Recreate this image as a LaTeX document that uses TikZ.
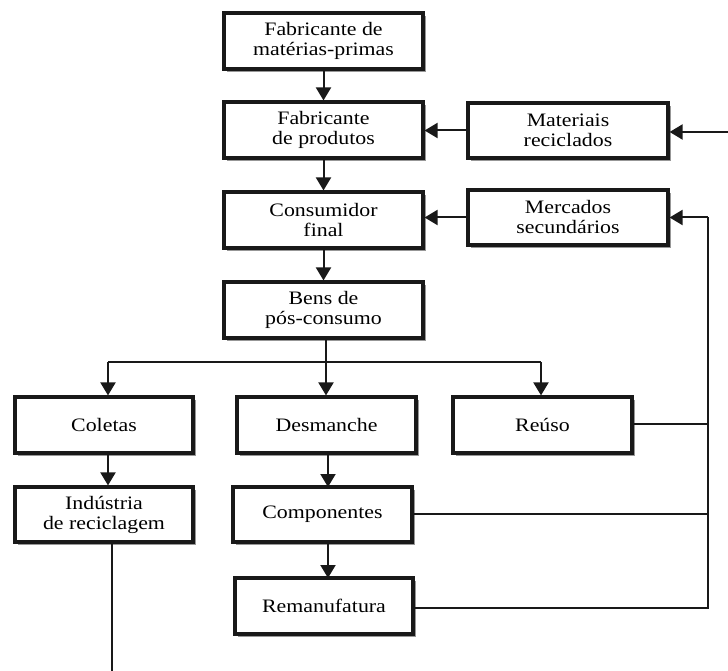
\documentclass[tikz,border=0pt]{standalone}
\usepackage{fontspec}
\setmainfont{Liberation Serif}[FakeStretch=1.15]
\usetikzlibrary{arrows.meta,shadows}
\begin{document}
\begin{tikzpicture}[x=1pt,y=-1pt,
  box/.style={draw=black!90,line width=3.2pt,fill=white,minimum height=56pt,
    align=center,inner sep=0pt,font=\fontsize{19}{20}\selectfont,
    drop shadow={shadow xshift=3pt,shadow yshift=-3pt,fill=black!45,opacity=0.9}},
  conn/.style={line width=2pt,black!90},
  arr/.style={conn,-{Triangle[length=13pt,width=15pt]}}]
\useasboundingbox (0,0) rectangle (728,671);
% main column
\node[box,minimum width=199pt] (fm) at (323.5,41) {Fabricante de\\matérias-primas};
\node[box,minimum width=199pt] (fp) at (323.5,130) {Fabricante\\de produtos};
\node[box,minimum width=199pt] (cf) at (323.5,220) {Consumidor\\final};
\node[box,minimum width=199pt] (bp) at (323.5,310) {Bens de\\pós-consumo};
% right column
\node[box,minimum width=200pt,minimum height=55pt] (mr) at (568,130.5) {Materiais\\reciclados};
\node[box,minimum width=200pt,minimum height=55pt] (ms) at (568,217.5) {Mercados\\secundários};
% lower row
\node[box,minimum width=178pt] (co) at (104,425) {Coletas};
\node[box,minimum width=179pt] (de) at (326.5,425) {Desmanche};
\node[box,minimum width=179pt] (re) at (542.5,425) {Reúso};
\node[box,minimum width=178pt,minimum height=55pt] (in) at (104,514.5) {Indústria\\de reciclagem};
\node[box,minimum width=179pt,minimum height=55pt] (cp) at (322.5,514.5) {Componentes};
\node[box,minimum width=178pt] (rm) at (324,606) {Remanufatura};
% coordinates
\coordinate (edge) at (728,132);
\coordinate (split) at (326,362);
\coordinate (sl) at (108,362);
\coordinate (sr) at (541,362);
\coordinate (vr) at (708,217.5);
\coordinate (r1) at (708,424);
\coordinate (r2) at (708,514);
\coordinate (r3) at (708,608);
\coordinate (bot) at (112,671);
% main arrows
\draw[arr] (fm) -- (fp);
\draw[arr] (fp) -- (cf);
\draw[arr] (cf) -- (bp);
\draw[arr] (mr.west) -- (fp.east |- mr.west);
\draw[arr] (edge) -- (mr.east |- edge);
\draw[arr] (ms.west) -- (cf.east |- ms.west);
% distribution
\draw[conn] (bp.south -| split) -- (split);
\draw[conn] (sl) -- (sr);
\draw[arr] (sl) -- (sl |- co.north);
\draw[arr] (split) -- (split |- de.north);
\draw[arr] (sr) -- (sr |- re.north);
\draw[arr] (co.south -| sl) -- (sl |- in.north);
\draw[arr] (de.south -| 328,0) -- (328,487);
\draw[arr] (cp.south -| 328,0) -- (328,578);
% return paths
\draw[conn] (re.east |- r1) -- (r1);
\draw[conn] (cp.east |- r2) -- (r2);
\draw[conn] (rm.east |- r3) -- (r3) -- (vr);
\draw[arr] (vr) -- (ms.east);
% recycling industry line
\draw[conn] (in.south -| bot) -- (bot);
\end{tikzpicture}
\end{document}
